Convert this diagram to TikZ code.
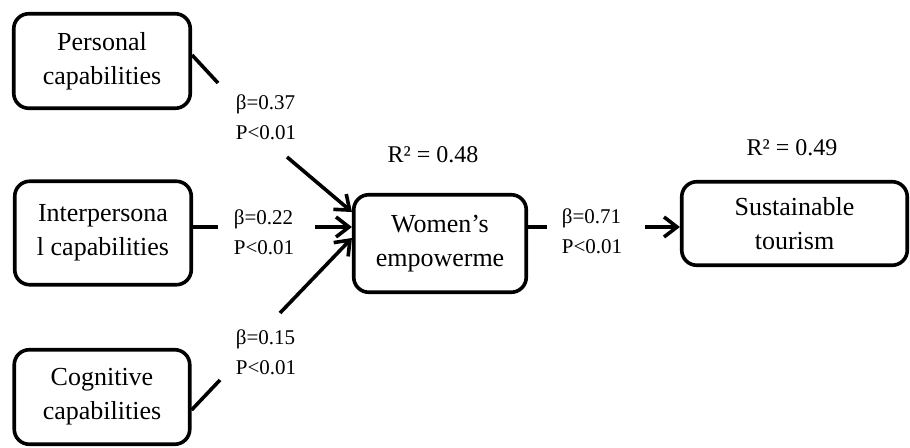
\documentclass[tikz,border=0pt]{standalone}
\usepackage{fontspec}
\setmainfont{Liberation Serif}
\usetikzlibrary{arrows.meta}
\begin{document}
\begin{tikzpicture}[x=1pt,y=-1pt,
 box/.style={draw,line width=3.6pt,rounded corners=15pt,align=center,font=\fontsize{26}{34}\selectfont,inner sep=0pt},
 lab/.style={align=left,font=\fontsize{21}{30}\selectfont,inner sep=0pt},
 rsq/.style={font=\fontsize{24}{28}\selectfont,inner sep=0pt},
 conn/.style={line width=3.6pt},
 arr/.style={line width=3.6pt,-{Straight Barb[length=13pt,width=20pt]}}]
\useasboundingbox (0,0) rectangle (910,447);
% boxes
\node[box,minimum width=176.5pt,minimum height=94.5pt] (pers) at (102,61) {Personal\\capabilities};
\node[box,minimum width=176.5pt,minimum height=103.5pt] (inter) at (103,233) {Interpersona\\l capabilities};
\node[box,minimum width=175.5pt,minimum height=94.5pt] (cog) at (102,397) {Cognitive\\capabilities};
\node[box,minimum width=172.5pt,minimum height=97.5pt] (wom) at (440,243.5) {Women’s\\empowerme};
\node[box,minimum width=225.5pt,minimum height=83.5pt] (sust) at (794.5,223.5) {Sustainable\\tourism};
% labels
\node[lab] (l1) at (266,117) {β=0.37\\P<0.01};
\node[lab] (l2) at (264,232) {β=0.22\\P<0.01};
\node[lab] (l3) at (266,352) {β=0.15\\P<0.01};
\node[lab] (l4) at (592,231) {β=0.71\\P<0.01};
\node[rsq] (r1) at (433,155) {R² = 0.48};
\node[rsq] (r2) at (792,148) {R² = 0.49};
% gap coordinates
\coordinate (p1a) at (218,83);
\coordinate (p1b) at (287,157);
\coordinate (p2a) at (218,227);
\coordinate (p2b) at (315,227);
\coordinate (p3a) at (220,380);
\coordinate (p3b) at (280,313);
\coordinate (p4a) at (547,227);
\coordinate (p4b) at (645,227);
% connectors
\draw[conn] ([yshift=6pt]pers.east) -- (p1a);
\draw[arr] (p1b) -- ([yshift=31.5pt]wom.west);
\draw[conn] ([yshift=6pt]inter.east) -- (p2a);
\draw[arr] (p2b) -- ([yshift=16.5pt]wom.west);
\draw[conn] ([yshift=-13pt]cog.east) -- (p3a);
\draw[arr] (p3b) -- ([yshift=5.5pt]wom.west);
\draw[conn] ([yshift=16.5pt]wom.east) -- (p4a);
\draw[arr] (p4b) -- ([yshift=-3.5pt]sust.west);
\end{tikzpicture}
\end{document}
